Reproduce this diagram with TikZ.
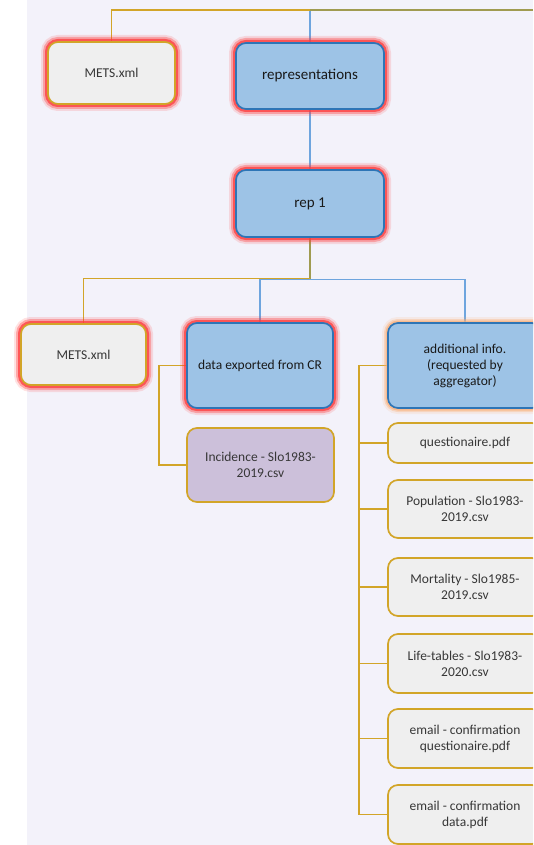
\documentclass[tikz,border=0pt]{standalone}
\usepackage{fontspec}
\setmainfont{Carlito}
\usetikzlibrary{backgrounds}
\definecolor{gold}{RGB}{210,165,40}
\definecolor{bluefill}{RGB}{157,195,230}
\definecolor{blueedge}{RGB}{46,117,182}
\definecolor{blueline}{RGB}{110,165,222}
\definecolor{oliveline}{RGB}{160,155,80}
\definecolor{greyfill}{RGB}{239,239,239}
\definecolor{purplefill}{RGB}{204,192,218}
\definecolor{glowred}{RGB}{255,60,60}
\definecolor{gloworange}{RGB}{250,175,120}
\definecolor{bgcol}{RGB}{243,242,250}
\definecolor{txt}{RGB}{55,55,55}
\definecolor{txtdark}{RGB}{25,25,25}
\tikzset{
  box/.style={rectangle, rounded corners=10pt, line width=1.7pt, align=center,
    inner sep=2pt, font=\fontsize{13.5}{16}\selectfont},
  greybox/.style={box, draw=gold, fill=greyfill, text=txt},
  bluebox/.style={box, draw=blueedge, fill=bluefill, text=txtdark},
  purplebox/.style={box, draw=gold, fill=purplefill, text=txt},
  childbox/.style={greybox, minimum width=154pt, minimum height=59pt},
  bigfont/.style={font=\fontsize{15}{18}\selectfont},
  redglow/.style={
    preaction={draw=glowred, line width=14pt, opacity=0.15},
    preaction={draw=glowred, line width=10pt, opacity=0.35},
    preaction={draw=glowred, line width=6pt, opacity=0.75}},
  orangeglow/.style={
    preaction={draw=gloworange, line width=12pt, opacity=0.15},
    preaction={draw=gloworange, line width=8pt, opacity=0.35},
    preaction={draw=gloworange, line width=5pt, opacity=0.65}},
  goldconn/.style={draw=gold, line width=1.8pt},
  blueconn/.style={draw=blueline, line width=1.6pt},
  oliveconn/.style={draw=oliveline, line width=1.8pt},
}
\begin{document}
\begin{tikzpicture}[x=1pt, y=-1pt]
\useasboundingbox (0,0) rectangle (533,845);
\clip (0,0) rectangle (533,845);

% nodes
\node[greybox, redglow, minimum width=127pt, minimum height=62pt] (mets1) at (111.5,73) {METS.xml};
\node[bluebox, redglow, bigfont, minimum width=148pt, minimum height=66pt] (repres) at (310,76) {representations};
\node[bluebox, redglow, bigfont, minimum width=148pt, minimum height=67pt] (rep1) at (310,203.5) {rep 1};
\node[greybox, redglow, minimum width=125pt, minimum height=61pt] (mets2) at (83.5,354.5) {METS.xml};
\node[bluebox, redglow, minimum width=146pt, minimum height=85pt] (data) at (260,365.5) {data exported from CR};
\node[bluebox, orangeglow, minimum width=154pt, minimum height=85pt] (addl) at (465,365.5) {additional info.\\(requested by\\aggregator)};
\node[purplebox, minimum width=147pt, minimum height=74pt] (incid) at (260.5,465) {Incidence - Slo1983-\\2019.csv};
\node[childbox, minimum height=40pt] (q1) at (465,443) {questionaire.pdf};
\node[childbox, minimum height=58pt] (pop) at (465,509) {Population - Slo1983-\\2019.csv};
\node[childbox, minimum height=58pt] (mort) at (465,587) {Mortality - Slo1985-\\2019.csv};
\node[childbox] (life) at (465,663.5) {Life-tables - Slo1983-\\2020.csv};
\node[childbox] (em1) at (465,738.5) {email - confirmation\\questionaire.pdf};
\node[childbox] (em2) at (465,814.5) {email - confirmation\\data.pdf};

\begin{pgfonlayer}{background}
  \fill[bgcol] (27,0) rectangle (533,845);
  % top level
  \coordinate (topJ) at (310,10);
  \coordinate (topR) at (533,10);
  \draw[blueconn] (repres.north) -- (topJ);
  \draw[goldconn] (topJ) -| (mets1.north);
  \draw[oliveconn] (topJ) -- (topR);
  \draw[blueconn] (repres.south) -- (rep1.north);
  % rep 1 children
  \coordinate (repJ) at (310,278.5);
  \draw[oliveconn] (rep1.south) -- (repJ);
  \draw[goldconn] (repJ) -| (mets2.north);
  \draw[blueconn] (data.north) |- ([yshift=-1pt]repJ) -| (addl.north);
  % data exported -> incidence
  \draw[goldconn] (data.west) -- ++(-27,0) |- (incid.west);
  % additional info -> children
  \coordinate (trunk) at (359,365.5);
  \draw[goldconn] (addl.west) -- (trunk) |- (em2.west);
  \draw[goldconn] (trunk |- q1.west) -- (q1.west);
  \draw[goldconn] (trunk |- pop.west) -- (pop.west);
  \draw[goldconn] (trunk |- mort.west) -- (mort.west);
  \draw[goldconn] (trunk |- life.west) -- (life.west);
  \draw[goldconn] (trunk |- em1.west) -- (em1.west);
\end{pgfonlayer}
\end{tikzpicture}
\end{document}
